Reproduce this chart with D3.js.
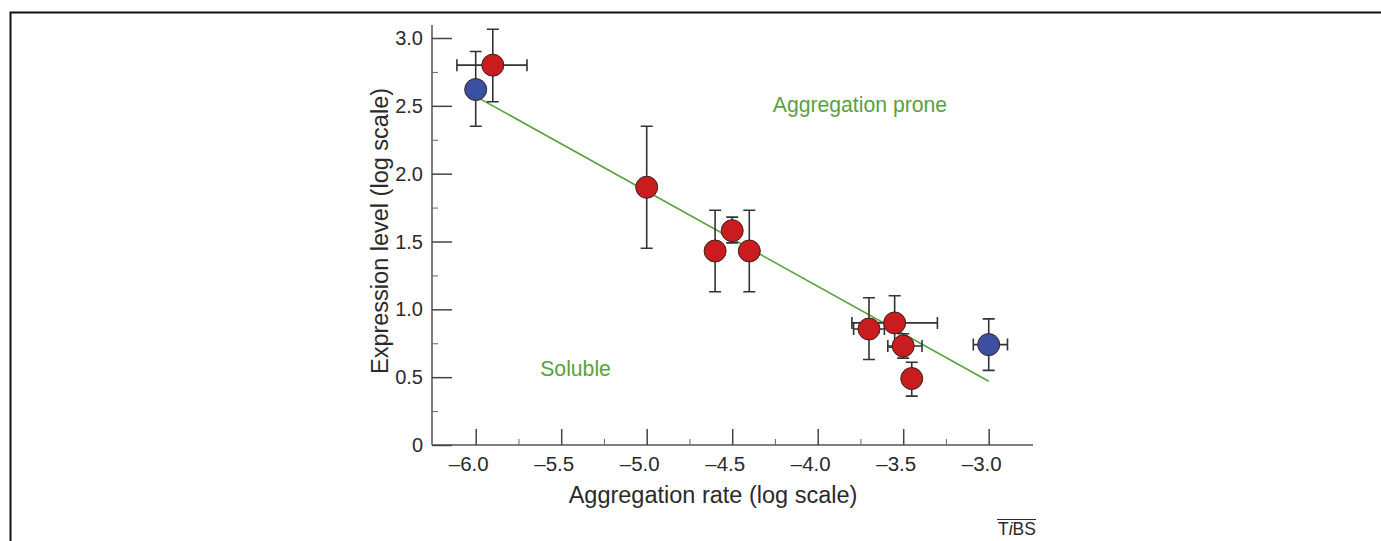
<!DOCTYPE html>
<html>
<head>
<meta charset="utf-8">
<script src="https://cdn.jsdelivr.net/npm/d3@7"></script>
<style>
  html, body { margin: 0; padding: 0; background: #fff; }
  svg { display: block; }
  text { font-family: "Liberation Sans", Arial, Helvetica, sans-serif; }
</style>
</head>
<body>
<svg id="chart" width="1381" height="541"></svg>
<script>
// ---- data ----
const xValues  = [-6.0, -5.9, -5.0, -4.6, -4.5, -4.4, -3.7, -3.55, -3.5, -3.45, -3.0];
const yValues  = [2.62, 2.80, 1.90, 1.43, 1.58, 1.43, 0.855, 0.90, 0.73, 0.49, 0.74];
const yLow     = [2.35, 2.53, 1.45, 1.13, 1.49, 1.13, 0.63, 0.72, 0.64, 0.36, 0.55];
const yHigh    = [2.90, 3.065, 2.35, 1.73, 1.68, 1.73, 1.085, 1.10, 0.82, 0.61, 0.93];
const xLow     = [null, -6.11, null, null, null, null, -3.79, -3.80, -3.59, null, -3.09];
const xHigh    = [null, -5.70, null, null, null, null, -3.61, -3.30, -3.39, null, -2.89];
const groups   = ["control", "mutant", "mutant", "mutant", "mutant", "mutant", "mutant", "mutant", "mutant", "mutant", "control"];
const fitX     = [-6.0, -3.0];
const fitY     = [2.57, 0.47];
const xTicks   = [-6.0, -5.5, -5.0, -4.5, -4.0, -3.5, -3.0];
const xMinor   = [-5.75, -5.25, -4.75, -4.25, -3.75, -3.25];
const yTicks   = [0, 0.5, 1.0, 1.5, 2.0, 2.5, 3.0];
const yMinor   = [0.25, 0.75, 1.25, 1.75, 2.25, 2.75];
const xTitle   = "Aggregation rate (log scale)";
const yTitle   = "Expression level (log scale)";
const regionLabels = ["Aggregation prone", "Soluble"];
const regionPos    = [[-3.753, 2.455], [-5.416, 0.509]];

// ---- layout ----
const svg = d3.select("#chart");
const x = d3.scaleLinear().domain([-6.0, -3.0]).range([475.7, 988.7]);
const y = d3.scaleLinear().domain([0, 3.0]).range([445, 38]);
const xAxisLeft = 432, xAxisRight = 1033, yAxisTop = 25;
const ink = "#2a2a2a";
const green = "#58a23e";

// outer frame (top & left edges)
svg.append("path")
  .attr("d", "M10.5,541 L10.5,12.5 L1381,12.5")
  .attr("fill", "none").attr("stroke", "#111").attr("stroke-width", 2);

// axes lines
const g = svg.append("g");
g.append("line").attr("x1", xAxisLeft).attr("x2", xAxisLeft).attr("y1", yAxisTop).attr("y2", y(0))
  .attr("stroke", "#555").attr("stroke-width", 1.5);
g.append("line").attr("x1", xAxisLeft).attr("x2", xAxisRight).attr("y1", y(0)).attr("y2", y(0))
  .attr("stroke", "#555").attr("stroke-width", 1.5);

// y ticks (inward)
const yAxis = d3.axisRight(y).tickValues(yTicks).tickSize(20).tickFormat("");
const yAx = g.append("g").attr("transform", `translate(${xAxisLeft},0)`).call(yAxis);
yAx.select(".domain").remove();
yAx.selectAll("line").attr("stroke", "#444").attr("stroke-width", 1.5);
const yAxisMinor = d3.axisRight(y).tickValues(yMinor).tickSize(6).tickFormat("");
const yAxm = g.append("g").attr("transform", `translate(${xAxisLeft},0)`).call(yAxisMinor);
yAxm.select(".domain").remove();
yAxm.selectAll("line").attr("stroke", "#666").attr("stroke-width", 1);

g.selectAll(".ylab").data(yTicks).enter().append("text")
  .attr("x", 423).attr("y", d => y(d) + 7)
  .attr("text-anchor", "end").attr("font-size", 20).attr("fill", ink)
  .text(d => d === 0 ? "0" : d3.format(".1f")(d));

// x ticks (inward)
const xAxis = d3.axisTop(x).tickValues(xTicks).tickSize(16).tickFormat("");
const xAx = g.append("g").attr("transform", `translate(0,${y(0)})`).call(xAxis);
xAx.select(".domain").remove();
xAx.selectAll("line").attr("stroke", "#444").attr("stroke-width", 1.5);
const xAxisMinor = d3.axisTop(x).tickValues(xMinor).tickSize(6).tickFormat("");
const xAxm = g.append("g").attr("transform", `translate(0,${y(0)})`).call(xAxisMinor);
xAxm.select(".domain").remove();
xAxm.selectAll("line").attr("stroke", "#666").attr("stroke-width", 1);

g.selectAll(".xlab").data(xTicks).enter().append("text")
  .attr("x", d => x(d) + 13).attr("y", 471)
  .attr("text-anchor", "end").attr("font-size", 20.5).attr("fill", ink)
  .text(d => "\u2013" + d3.format(".1f")(-d));

// axis titles
svg.append("text").attr("x", 713).attr("y", 503)
  .attr("text-anchor", "middle").attr("font-size", 23.5).attr("fill", ink)
  .text(xTitle);
svg.append("text")
  .attr("transform", "translate(388,231) rotate(-90)")
  .attr("text-anchor", "middle").attr("font-size", 23.5).attr("fill", ink)
  .text(yTitle);

// fit line
svg.append("line")
  .attr("x1", x(fitX[0])).attr("y1", y(fitY[0]))
  .attr("x2", x(fitX[1])).attr("y2", y(fitY[1]))
  .attr("stroke", green).attr("stroke-width", 1.6);

// region labels
svg.selectAll(".region").data(regionLabels).enter().append("text")
  .attr("x", (d, i) => x(regionPos[i][0])).attr("y", (d, i) => y(regionPos[i][1]))
  .attr("text-anchor", "middle").attr("font-size", 21.2).attr("fill", green)
  .text(d => d);

// error bars
const idx = d3.range(xValues.length);
const cap = 6;
const eb = svg.append("g").attr("stroke", "#333").attr("stroke-width", 1.6).attr("fill", "none");
idx.forEach(i => {
  const cx = x(xValues[i]), cy = y(yValues[i]);
  const y1 = y(yLow[i]), y2 = y(yHigh[i]);
  eb.append("path").attr("d",
    `M${cx},${y1}L${cx},${y2}M${cx - cap},${y1}L${cx + cap},${y1}M${cx - cap},${y2}L${cx + cap},${y2}`);
  if (xLow[i] !== null) {
    const x1 = x(xLow[i]), x2 = x(xHigh[i]);
    eb.append("path").attr("d",
      `M${x1},${cy}L${x2},${cy}M${x1},${cy - cap}L${x1},${cy + cap}M${x2},${cy - cap}L${x2},${cy + cap}`);
  }
});

// points
svg.selectAll(".pt").data(idx).enter().append("circle")
  .attr("cx", i => x(xValues[i])).attr("cy", i => y(yValues[i]))
  .attr("r", 11)
  .attr("fill", i => groups[i] === "control" ? "#3b50a0" : "#c81c1e")
  .attr("stroke", "#3a2020").attr("stroke-width", 1);

// source mark
const src = svg.append("text").attr("x", 998).attr("y", 535).attr("font-size", 17.5).attr("fill", ink);
src.append("tspan").text("T");
src.append("tspan").attr("font-style", "italic").text("i");
src.append("tspan").text("BS");
svg.append("line").attr("x1", 997).attr("x2", 1036).attr("y1", 519.5).attr("y2", 519.5)
  .attr("stroke", ink).attr("stroke-width", 1);
</script>
</body>
</html>
